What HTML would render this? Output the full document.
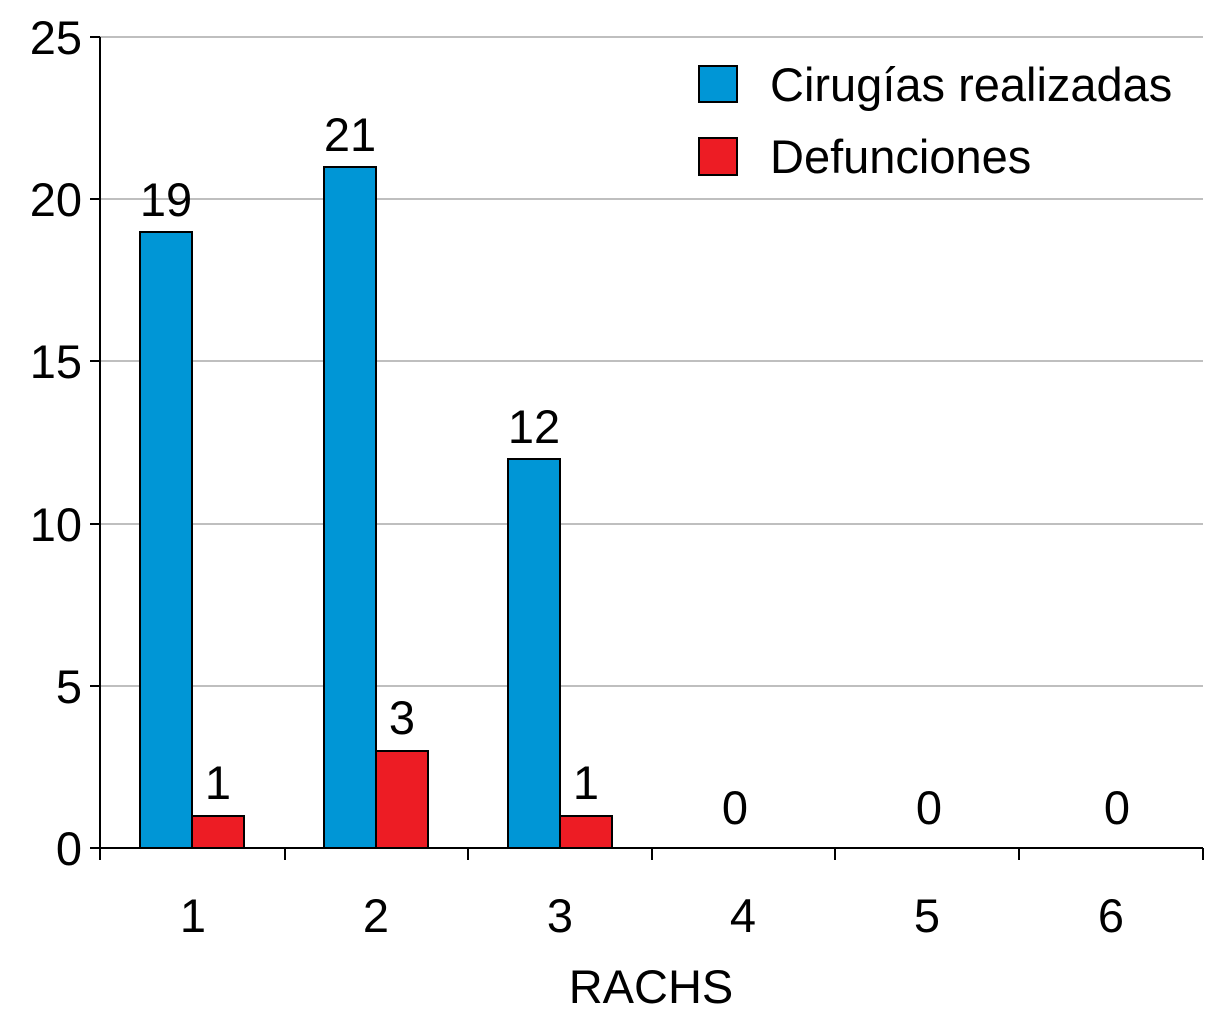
<!DOCTYPE html>
<html><head><style>body{margin:0;background:#fff}</style></head><body>
<svg width="1205" height="1024" xmlns="http://www.w3.org/2000/svg" font-family="Liberation Sans, Arial, sans-serif" font-size="47" fill="#000">
<g stroke="#bfbfbf" stroke-width="2">
<line x1="100" y1="37" x2="1203" y2="37"/>
<line x1="100" y1="199" x2="1203" y2="199"/>
<line x1="100" y1="361" x2="1203" y2="361"/>
<line x1="100" y1="524" x2="1203" y2="524"/>
<line x1="100" y1="686" x2="1203" y2="686"/>
</g>
<g stroke="#000" stroke-width="2">
<line x1="100" y1="37" x2="100" y2="860"/>
<line x1="90" y1="848" x2="1203" y2="848"/>
<line x1="90" y1="37" x2="100" y2="37"/>
<line x1="90" y1="199" x2="100" y2="199"/>
<line x1="90" y1="361" x2="100" y2="361"/>
<line x1="90" y1="524" x2="100" y2="524"/>
<line x1="90" y1="686" x2="100" y2="686"/>
<line x1="285" y1="848" x2="285" y2="860"/>
<line x1="468" y1="848" x2="468" y2="860"/>
<line x1="652" y1="848" x2="652" y2="860"/>
<line x1="835" y1="848" x2="835" y2="860"/>
<line x1="1019" y1="848" x2="1019" y2="860"/>
<line x1="1203" y1="848" x2="1203" y2="860"/>
</g>
<g stroke="#000" stroke-width="2">
<rect x="140" y="232" width="52" height="616" fill="#0096d6"/>
<rect x="192" y="816" width="52" height="32" fill="#ed1c24"/>
<rect x="324" y="167" width="52" height="681" fill="#0096d6"/>
<rect x="376" y="751" width="52" height="97" fill="#ed1c24"/>
<rect x="508" y="459" width="52" height="389" fill="#0096d6"/>
<rect x="560" y="816" width="52" height="32" fill="#ed1c24"/>
<rect x="699" y="66" width="38" height="36" fill="#0096d6"/>
<rect x="699" y="138" width="38" height="37" fill="#ed1c24"/>
</g>
<g text-anchor="end">
<text x="82" y="54">25</text>
<text x="82" y="216">20</text>
<text x="82" y="378">15</text>
<text x="82" y="541">10</text>
<text x="82" y="703">5</text>
<text x="82" y="865">0</text>
</g>
<g text-anchor="middle">
<text x="166" y="216">19</text>
<text x="218" y="799">1</text>
<text x="350" y="151">21</text>
<text x="402" y="734">3</text>
<text x="534" y="443">12</text>
<text x="586" y="799">1</text>
<text x="735" y="824">0</text>
<text x="929" y="824">0</text>
<text x="1117" y="824">0</text>
<text x="193" y="932">1</text>
<text x="376" y="932">2</text>
<text x="560" y="932">3</text>
<text x="743" y="932">4</text>
<text x="927" y="932">5</text>
<text x="1111" y="932">6</text>
<text x="651" y="1003">RACHS</text>
</g>
<text x="770" y="101">Cirugías realizadas</text>
<text x="770" y="173">Defunciones</text>
</svg>
</body></html>
